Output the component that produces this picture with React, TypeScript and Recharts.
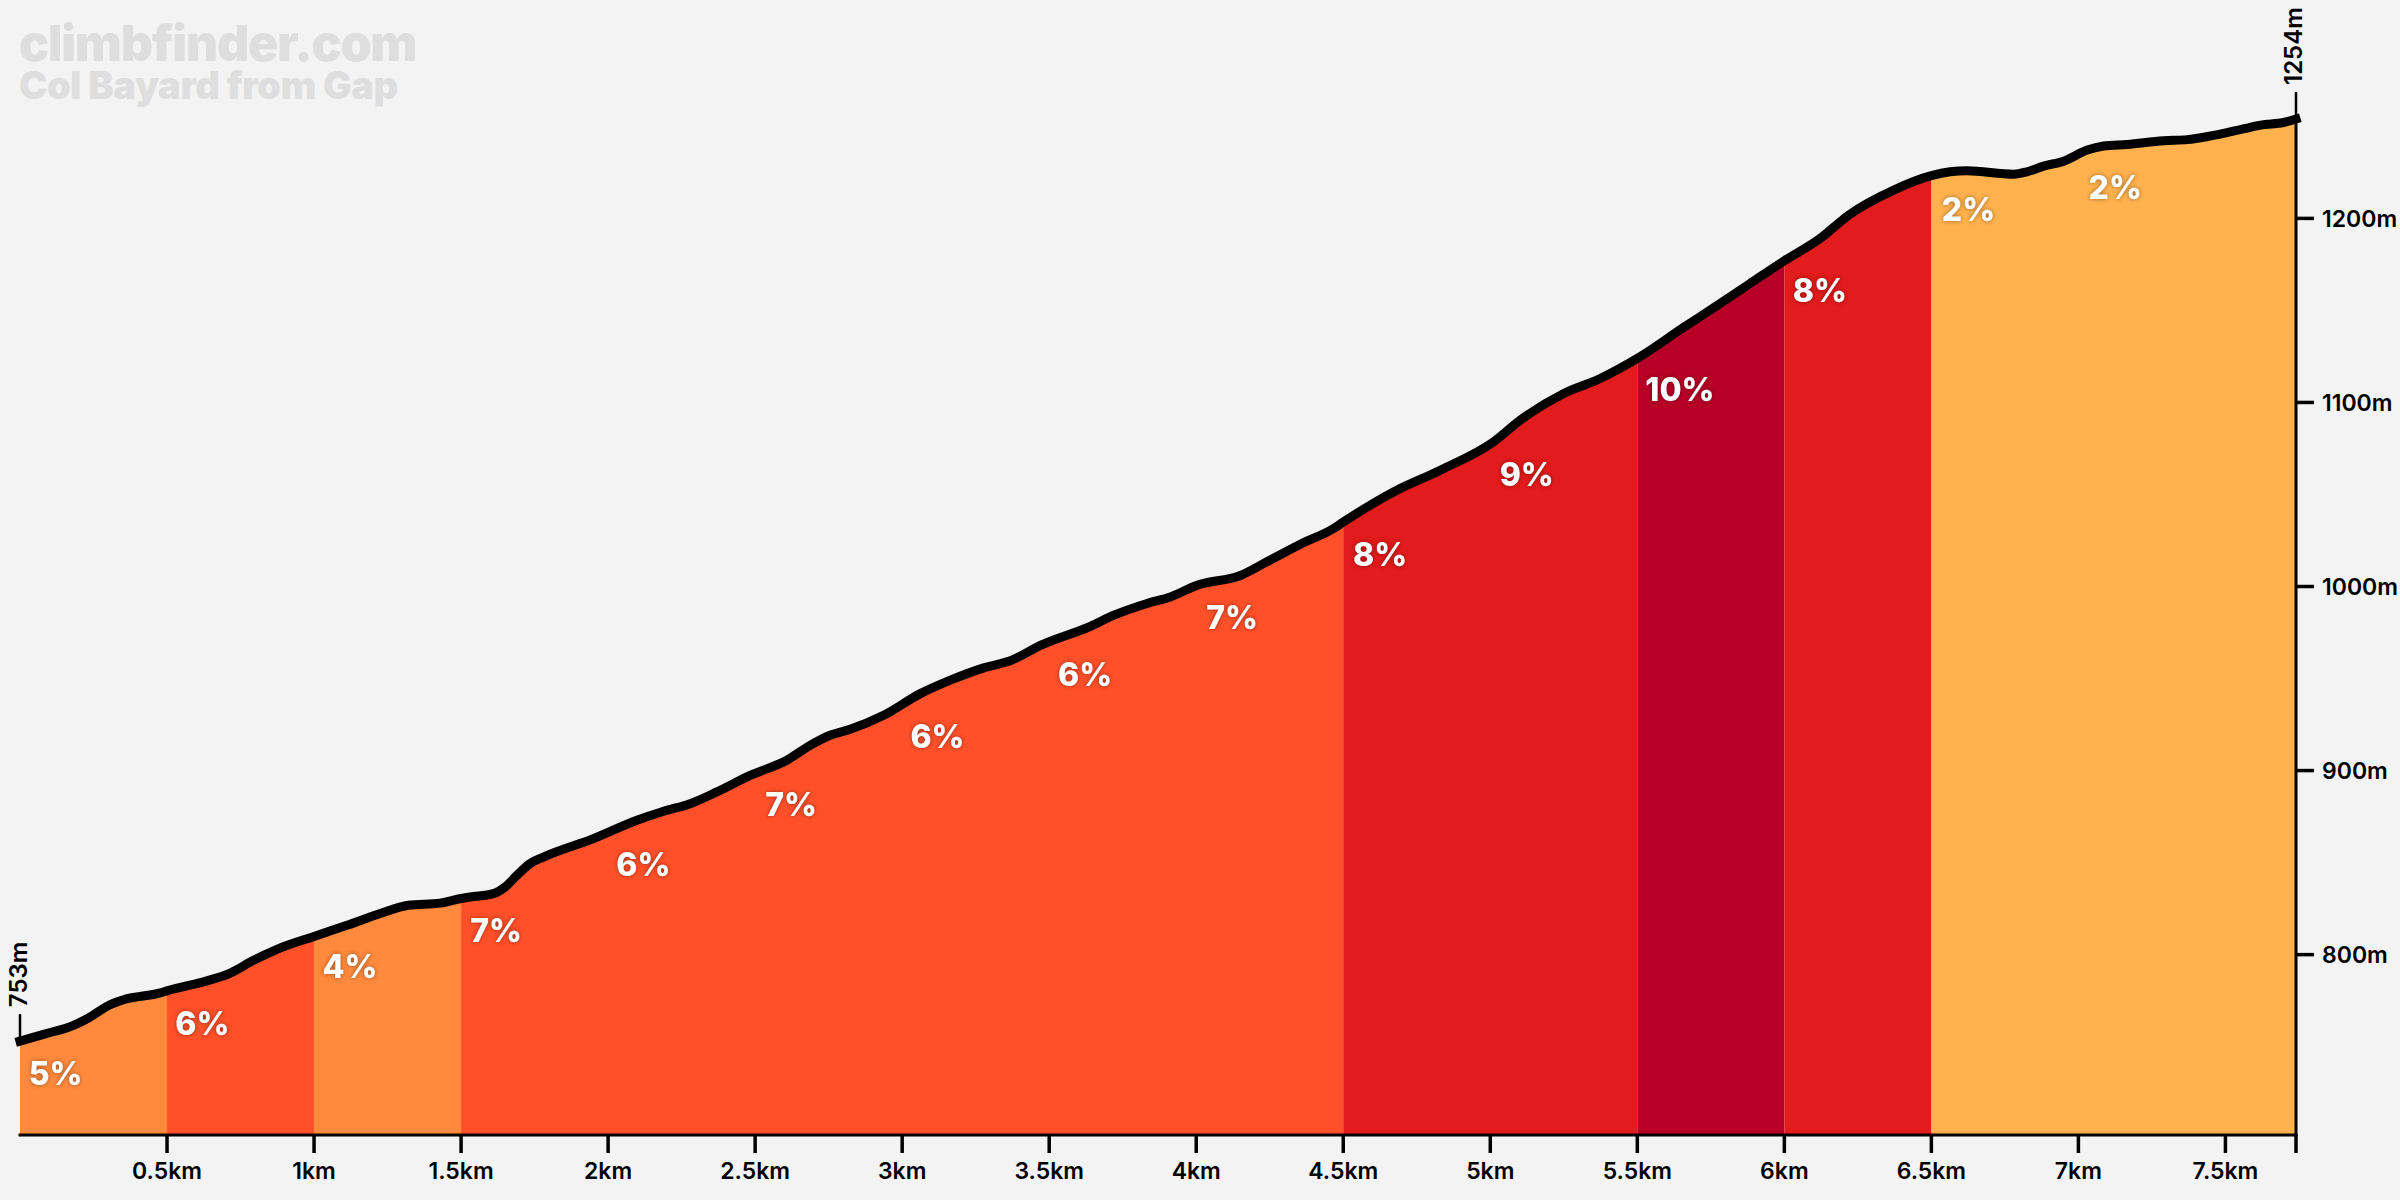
import React from 'react';
import { ComposedChart, Area, Line, XAxis, YAxis, ReferenceDot } from 'recharts';

// profile: distance in km, elevation in m
const distances = [
  0, 0.08, 0.182, 0.233, 0.301, 0.352, 0.477, 0.5, 0.641, 0.715, 0.794, 0.874, 1, 1.112, 1.225, 1.321, 1.429, 1.5,
  1.531, 1.61, 1.65, 1.69, 1.735, 1.78, 1.95, 2.098, 2.189, 2.279, 2.37, 2.483, 2.608, 2.687, 2.755, 2.823, 2.937,
  3.062, 3.164, 3.277, 3.373, 3.47, 3.64, 3.72, 3.833, 3.912, 4.003, 4.15, 4.24, 4.354, 4.467, 4.5, 4.671, 4.83,
  5.011, 5.102, 5.25, 5.374, 5.5, 5.658, 5.77, 5.884, 6, 6.122, 6.219, 6.372, 6.5, 6.564, 6.621, 6.78, 6.825, 6.882,
  6.95, 7.03, 7.086, 7.166, 7.29, 7.37, 7.585, 7.62, 7.697, 7.74,
];
const elevations = [
  753, 756.7, 761.6, 765.6, 772.4, 775.5, 779.2, 780.3, 786, 790, 796.9, 802.9, 809.9, 815.9, 822.3, 826.8, 828, 830.5,
  831.3, 833.1, 836.8, 843.1, 849.5, 853, 863, 873, 877.9, 882, 888.4, 897.4, 905.6, 913.7, 919.2, 922.4, 930,
  941.8, 949.1, 955.8, 960, 968, 978.4, 984.4, 990.8, 994.3, 1000.7, 1006, 1013.4, 1023, 1031.5, 1035, 1051.4, 1063.2,
  1078.6, 1090.4, 1104.9, 1113, 1123.9, 1140.8, 1152.5, 1164.7, 1177, 1189.1, 1201.8, 1215.4, 1223.2, 1225.3, 1225.9, 1224, 1225.3, 1228.4,
  1231.1, 1237.1, 1239.3, 1240.2, 1242.2, 1242.8, 1249.5, 1250.7, 1252.1, 1254,
];

// coloured stretches
const segmentStarts = [0, 0.5, 1, 1.5, 4.5, 5.5, 6, 6.5];
const segmentEnds = [0.5, 1, 1.5, 4.5, 5.5, 6, 6.5, 7.74];
const segmentColors = ['#FF8A3D', '#FF5029', '#FF8A3D', '#FF5029', '#E21B1C', '#B80026', '#E21B1C', '#FFB14D'];

// gradient labels
const gradeTexts = ['5%', '6%', '4%', '7%', '6%', '7%', '6%', '6%', '7%', '8%', '9%', '10%', '8%', '2%', '2%'];
const gradeKm = [0.121, 0.62, 1.122, 1.619, 2.12, 2.622, 3.12, 3.622, 4.122, 4.625, 5.124, 5.645, 6.121, 6.626, 7.125];
const gradeElev = [735.5, 762.5, 793.3, 812.9, 849.1, 881.7, 918.6, 952.3, 982.9, 1017.6, 1060.9, 1107.1, 1160.7, 1204.9, 1216.8];

const xTicks = [0.5, 1, 1.5, 2, 2.5, 3, 3.5, 4, 4.5, 5, 5.5, 6, 6.5, 7, 7.5, 7.74];
const yTicks = [800, 900, 1000, 1100, 1200];

const tableData = distances.map((km, i) => {
  const row: Record<string, number | null> = { km, elevation: elevations[i] };
  segmentStarts.forEach((start, s) => {
    row[`seg${s}`] = km >= start && km <= segmentEnds[s] ? elevations[i] : null;
  });
  return row;
});

const FONT = 'Inter, "Noto Sans", sans-serif';

const GradeLabel = ({ cx, cy, text }: any) => (
  <text
    x={cx}
    y={cy}
    textAnchor="middle"
    dominantBaseline="central"
    fill="#fff"
    fontFamily={FONT}
    fontSize={32}
    fontWeight={800}
    style={{ filter: 'drop-shadow(0 0 2px rgba(0,0,0,0.4))' }}
  >
    {text}
  </text>
);

// thin tick above the line end with the rotated elevation next to it
const EndLabel = ({ cx, cy, text, textX }: any) => (
  <g>
    <line x1={cx} x2={cx} y1={cy} y2={cy - 27} stroke="#000" strokeWidth={2.5} />
    <text
      transform={`translate(${cx + textX}, ${cy - 34}) rotate(-90)`}
      dominantBaseline="central"
      fill="#000"
      fontFamily={FONT}
      fontSize={24}
      fontWeight={600}
    >
      {text}
    </text>
  </g>
);

const App = () => {
  return (
    <div style={{ position: 'absolute', left: 0, top: 0, width: 2400, height: 1200, background: '#F3F3F3', overflow: 'hidden' }}>
      <div style={{ position: 'absolute', left: 19, top: 21, fontFamily: FONT, fontWeight: 900, color: '#DEDEDE', fontSize: 50, lineHeight: '44px', letterSpacing: -1.3 }}>
        climbfinder.com
      </div>
      <div style={{ position: 'absolute', left: 19, top: 68, fontFamily: FONT, fontWeight: 900, color: '#DEDEDE', fontSize: 38, lineHeight: '34px', letterSpacing: -0.4 }}>
        Col Bayard from Gap
      </div>
      <ComposedChart
        width={2400}
        height={1200}
        data={tableData}
        margin={{ top: 119, right: 0, bottom: 0, left: 20 }}
        style={{ position: 'absolute', left: 0, top: 0 }}
      >
        <XAxis
          dataKey="km"
          type="number"
          domain={[0, 7.74]}
          ticks={xTicks}
          interval={0}
          height={65}
          tickSize={18}
          tickMargin={10}
          tickFormatter={(km: number) => (km === 7.74 ? '' : `${km}km`)}
          axisLine={{ stroke: '#000', strokeWidth: 3, strokeLinecap: 'square' }}
          tickLine={{ stroke: '#000', strokeWidth: 3.5 }}
          tick={{ fill: '#000', fontSize: 23, fontWeight: 600, fontFamily: FONT }}
        />
        <YAxis
          orientation="right"
          type="number"
          domain={[702, 1254]}
          ticks={yTicks}
          interval={0}
          width={104}
          tickSize={18}
          tickMargin={8}
          tickFormatter={(m: number) => `${m}m`}
          axisLine={{ stroke: '#000', strokeWidth: 3 }}
          tickLine={{ stroke: '#000', strokeWidth: 3.5 }}
          tick={{ fill: '#000', fontSize: 23, fontWeight: 600, fontFamily: FONT }}
        />
        {segmentColors.map((color, s) => (
          <Area
            key={s}
            dataKey={`seg${s}`}
            type="monotone"
            fill={color}
            fillOpacity={1}
            stroke="none"
            dot={false}
            activeDot={false}
            isAnimationActive={false}
          />
        ))}
        <Line
          dataKey="elevation"
          type="monotone"
          stroke="#000"
          strokeWidth={9}
          strokeLinecap="square"
          dot={false}
          activeDot={false}
          isAnimationActive={false}
        />
        {gradeTexts.map((text, i) => (
          <ReferenceDot key={i} x={gradeKm[i]} y={gradeElev[i]} r={0} shape={(p: any) => <GradeLabel {...p} text={text} />} />
        ))}
        <ReferenceDot x={0} y={753} r={0} shape={(p: any) => <EndLabel {...p} text="753m" textX={-2} />} />
        <ReferenceDot x={7.74} y={1254} r={0} shape={(p: any) => <EndLabel {...p} text="1254m" textX={-3} />} />
      </ComposedChart>
    </div>
  );
};

export default App;
